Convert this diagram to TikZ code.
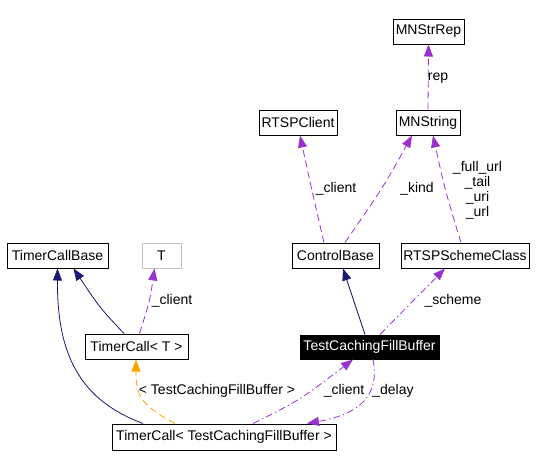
\documentclass[tikz,border=0pt]{standalone}
\usepackage{fontspec}
\setmainfont{Liberation Sans}
\usetikzlibrary{arrows.meta}
\definecolor{navyedge}{RGB}{25,25,112}
\definecolor{useedge}{RGB}{153,50,204}
\definecolor{tmpledge}{RGB}{255,165,0}
\definecolor{graybox}{RGB}{191,191,191}
\begin{document}
\begin{tikzpicture}[x=1pt,y=-1pt,
  box/.style={draw=black, line width=1pt, inner sep=0pt, minimum height=25pt,
    font=\fontsize{14}{16}\selectfont},
  lbl/.style={font=\fontsize{14}{15}\selectfont, inner sep=0pt, align=center},
  tip/.style={-{Triangle[length=12pt,width=9pt]}},
  inh/.style={tip, draw=navyedge, line width=0.8pt},
  use/.style={tip, draw=useedge, line width=0.8pt, dash pattern=on 7pt off 4pt},
  usedd/.style={tip, draw=useedge, line width=0.8pt, dash pattern=on 7pt off 3pt on 1.5pt off 3pt},
  tmpl/.style={tip, draw=tmpledge, line width=0.8pt, dash pattern=on 7pt off 4pt}]
\useasboundingbox (0,0) rectangle (536,467);

% nodes
\node[box, minimum width=71pt] (mnstrrep) at (428.5,31.5) {MNStrRep};
\node[box, minimum width=64pt] (mnstring) at (428,122.5) {MNString};
\node[box, minimum width=78pt] (rtspclient) at (298,122.5) {RTSPClient};
\node[box, minimum width=87pt] (controlbase) at (335.5,255.5) {ControlBase};
\node[box, minimum width=128pt] (rtspscheme) at (465,255.5) {RTSPSchemeClass};
\node[box, minimum width=101pt] (timercallbase) at (57.5,255.5) {TimerCallBase};
\node[box, draw=graybox, minimum width=39pt] (tnode) at (161.5,255.5) {T};
\node[box, minimum width=103pt] (timercallt) at (136.5,346.5) {TimerCall< T >};
\node[box, fill=black, text=white, minimum width=139pt, minimum height=24pt] (tcfb) at (369.5,347) {TestCachingFillBuffer};
\node[box, minimum width=224pt, minimum height=26pt] (timercalltcfb) at (224,437) {TimerCall< TestCachingFillBuffer >};

% edges
\draw[use] (mnstring.north) -- (mnstrrep.south);
\node[lbl] (lrep) at (438,78) {rep};

\draw[use] ([xshift=-11.5pt]controlbase.north) .. controls (314,200) .. ([xshift=2pt]rtspclient.south);
\node[lbl] (lclient1) at (336,189) {\_client};

\draw[use] ([xshift=9.5pt]controlbase.north) .. controls (384,186) .. ([xshift=-16pt]mnstring.south);
\node[lbl] (lkind) at (417,189) {\_kind};

\draw[use] ([xshift=-4pt]rtspscheme.north) .. controls (445,190) .. ([xshift=5pt]mnstring.south);
\node[lbl] (lurls) at (477.5,190) {\_full\_url\\\_tail\\\_uri\\\_url};

\draw[inh] ([xshift=-4.5pt]tcfb.north) -- ([xshift=7.5pt]controlbase.south);
\draw[usedd] ([xshift=10.5pt]tcfb.north) -- ([xshift=-20pt]rtspscheme.south);
\node[lbl] (lscheme) at (453,301) {\_scheme};

\draw[inh] ([xshift=-12.5pt]timercallt.north) .. controls (100,308) .. ([xshift=16pt]timercallbase.south);
\draw[use] ([xshift=3pt]timercallt.north) .. controls (150,300) .. ([xshift=-7pt]tnode.south);
\node[lbl] (lclient2) at (172,301) {\_client};

\draw[inh] ([xshift=-81pt]timercalltcfb.north) .. controls (80,400) and (57,355) .. (timercallbase.south);
\draw[tmpl] ([xshift=-49pt]timercalltcfb.north) .. controls (140,405) and (136,395) .. ([xshift=-0.5pt]timercallt.south);
\node[lbl] (ltmpl) at (217,391) {< TestCachingFillBuffer >};

\draw[usedd] ([xshift=29pt]timercalltcfb.north) .. controls (300,400) .. ([xshift=-16.5pt]tcfb.south);
\node[lbl] (lclient3) at (344,391) {\_client};

\draw[usedd] ([xshift=3.5pt]tcfb.south) .. controls (380,395) and (360,414) .. ([xshift=83pt]timercalltcfb.north);
\node[lbl] (ldelay) at (393,391) {\_delay};
\end{tikzpicture}
\end{document}
